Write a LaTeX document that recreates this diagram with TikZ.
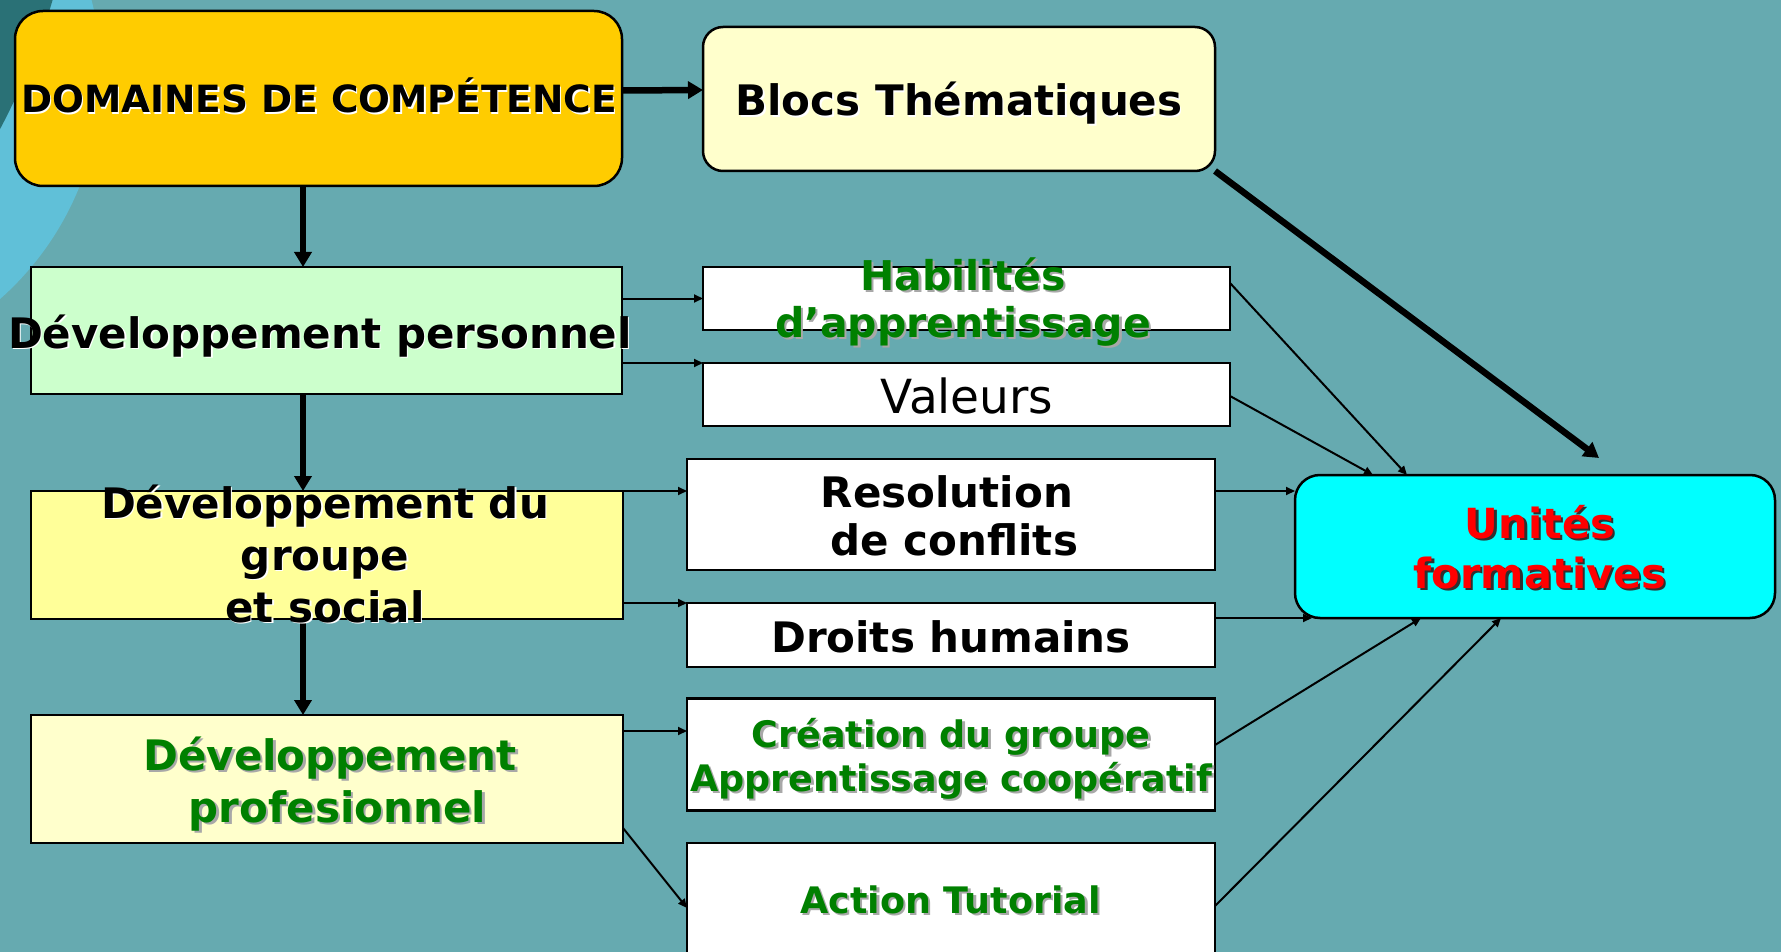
\documentclass[tikz,border=0pt]{standalone}
\usepackage{fontspec}
\setmainfont{DejaVu Sans}
\usetikzlibrary{arrows.meta,calc}
\definecolor{bgteal}{HTML}{66AAB0}
\definecolor{bglight}{HTML}{60C0D8}
\definecolor{bgdark}{HTML}{2A7176}
\definecolor{cdom}{HTML}{FFCC00}
\definecolor{cblocs}{HTML}{FFFFCC}
\definecolor{cperso}{HTML}{CCFFCC}
\definecolor{cgroupe}{HTML}{FFFF99}
\definecolor{cprof}{HTML}{FFFFCC}
\definecolor{cunites}{HTML}{00FFFF}
\definecolor{tgreen}{HTML}{008000}
\definecolor{tred}{HTML}{FF0000}
\definecolor{shgrey}{HTML}{A8A8A8}
\definecolor{shdark}{HTML}{303030}
\newcommand\fs[2]{\fontsize{#1}{#2}\selectfont}
\newcommand\shadowed[7]{%
  \node[txt, font=#3, text=#5] at ($#2+(#6,#6)$) {#7};
  \node[txt, font=#3, text=#4] (#1) at #2 {#7};}
\begin{document}
\begin{tikzpicture}[x=1pt,y=-1pt,
  box/.style={draw=black, line width=2.5pt, inner sep=0pt, outer sep=0pt},
  txt/.style={inner sep=0pt, align=center, anchor=base},
  thickarr/.style={line width=6.5pt, -{Triangle[length=15pt,width=17pt]}},
  thinarr/.style={line width=2pt, -{Triangle[length=9pt,width=8pt]}}]
\useasboundingbox (0,0) rectangle (1781,952);
\begin{scope}
  \clip (0,0) rectangle (1781,952);
  \fill[bgteal] (0,0) rectangle (1781,952);
  \fill[bglight] (-198,75) circle (299pt);
  \fill[bgdark] (-619,-198) circle (700pt);
\end{scope}

% boxes
\node[box, fill=cdom, rounded corners=28pt, minimum width=607pt, minimum height=175pt] (dom) at (318.5,98.5) {};
\node[box, fill=cblocs, rounded corners=20pt, minimum width=512pt, minimum height=144pt] (blocs) at (959,99) {};
\node[box, fill=cperso, minimum width=591pt, minimum height=127pt] (perso) at (326.5,330.5) {};
\node[box, fill=white, minimum width=527pt, minimum height=63pt] (hab) at (966.5,298.5) {};
\node[box, fill=white, minimum width=527pt, minimum height=63pt] (val) at (966.5,394.5) {};
\node[box, fill=cgroupe, minimum width=592pt, minimum height=128pt] (groupe) at (327,555) {};
\node[box, fill=white, minimum width=528pt, minimum height=111pt] (reso) at (951,514.5) {};
\node[box, fill=white, minimum width=528pt, minimum height=64pt] (droits) at (951,635) {};
\node[box, fill=white, minimum width=528pt, minimum height=112pt] (crea) at (951,754.5) {};
\node[box, fill=white, minimum width=528pt, minimum height=130pt] (action) at (951,908) {};
\node[box, fill=cprof, minimum width=592pt, minimum height=128pt] (prof) at (327,779) {};
\node[box, fill=cunites, rounded corners=25pt, minimum width=480pt, minimum height=143pt] (unites) at (1535,546.5) {};

% thick connectors
\draw[thickarr] ($(dom.east)+(0,-8)$) -- ($(blocs.west)+(0,-9)$);
\draw[thickarr] ($(dom.south)+(-15.5,0)$) -- ($(perso.north)+(-23.5,0)$);
\draw[thickarr] ($(perso.south)+(-23.5,0)$) -- ($(groupe.north)+(-24,0)$);
\draw[thickarr] ($(groupe.south)+(-24,0)$) -- ($(prof.north)+(-24,0)$);
\draw[thickarr] (blocs.south east) -- ($(unites.north)+(64,-17)$);

% thin connectors
\draw[thinarr] (perso.east |- hab.west) -- (hab.west);
\draw[thinarr] (perso.east |- val.north west) -- (val.north west);
\draw[thinarr] (groupe.north east) -- (groupe.north east -| reso.west);
\draw[thinarr] (groupe.east |- droits.north west) -- (droits.north west);
\draw[thinarr] ($(prof.north east)+(0,16)$) -- ($(crea.west)+(0,-23.5)$);
\draw[thinarr] ($(prof.south east)+(0,-15)$) -- (action.west);
\draw[thinarr] ($(hab.east)+(0,-15.5)$) -- ($(unites.north west)+(112,0)$);
\draw[thinarr] ($(val.east)+(0,1.5)$) -- ($(unites.north west)+(78,0)$);
\draw[thinarr] ($(reso.east)+(0,-23.5)$) -- ($(unites.north west)+(0,16)$);
\draw[thinarr] (droits.east |- unites.south west) -- ($(unites.south west)+(17,0)$);
\draw[thinarr] ($(crea.east)+(0,-9.5)$) -- ($(unites.south west)+(126,0)$);
\draw[thinarr] ($(action.east)+(0,-2)$) -- ($(unites.south west)+(206,0)$);

% texts (anchor base = baseline of the last line)
\shadowed{tdom}{(319,113)}{\bfseries\fs{37.5}{43}}{black}{white}{1.5}{DOMAINES DE COMPÉTENCE}
\shadowed{tblocs}{(959,116)}{\bfseries\fs{42}{48}}{black}{white}{1.5}{Blocs Thématiques}
\shadowed{tperso}{(320,348)}{\bfseries\fs{42}{52}}{black}{white}{1.5}{Développement personnel}
\shadowed{thab}{(963,337)}{\bfseries\fs{41}{47}}{tgreen}{shgrey}{2.5}{Habilités\\d’apprentissage}
\node[txt, font=\fs{47}{52}, text=black] (tval) at (967,413) {Valeurs};
\shadowed{tgroupe}{(325,622)}{\bfseries\fs{42}{52}}{black}{white}{1.5}{Développement du\\groupe\\et social}
\shadowed{treso}{(947,555)}{\bfseries\fs{42}{48}}{black}{white}{1.5}{Resolution\\\ de conflits}
\shadowed{tdroits}{(951,652)}{\bfseries\fs{42}{48}}{black}{white}{1.5}{Droits humains}
\shadowed{tcrea}{(951,791)}{\bfseries\fs{36.5}{44}}{tgreen}{shgrey}{2.5}{Création du groupe\\Apprentissage coopératif}
\shadowed{taction}{(950.5,913)}{\bfseries\fs{36.5}{44}}{tgreen}{shgrey}{2.5}{Action Tutorial}
\shadowed{tprof}{(330,822)}{\bfseries\fs{42}{52}}{tgreen}{shgrey}{2.5}{Développement\\\ profesionnel}
\shadowed{tunites}{(1540,588)}{\bfseries\fs{41.5}{50}}{tred}{shdark}{2.5}{Unités\\formatives}
\end{tikzpicture}
\end{document}
